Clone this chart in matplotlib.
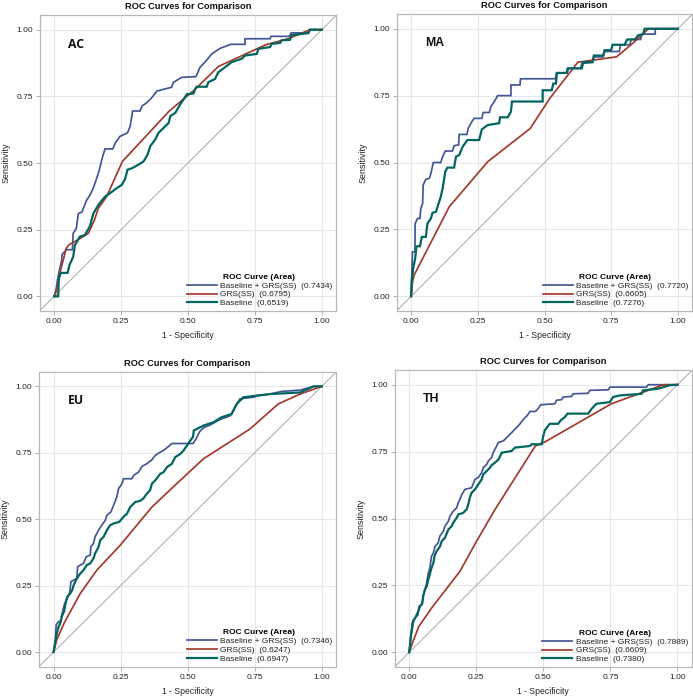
import numpy as np
import matplotlib
matplotlib.use("Agg")
import matplotlib.pyplot as plt

# ---------------- data (fpr, tpr) ----------------
PANELS = ["AC", "MA", "EU", "TH"]
SERIES = ["Baseline + GRS(SS)", "GRS(SS)", "Baseline"]
AUC = {
    "AC": [0.7434, 0.6795, 0.6519],
    "MA": [0.7720, 0.6605, 0.7276],
    "EU": [0.7346, 0.6247, 0.6947],
    "TH": [0.7889, 0.6609, 0.7380],
}

AC_COMBINED = [(0,0),(0.003,0.01),(0.008,0.03),(0.012,0.06),(0.02,0.1),(0.027,0.13),(0.03,0.158),
    (0.046,0.175),(0.068,0.175),(0.071,0.236),(0.083,0.255),(0.09,0.31),(0.103,0.316),(0.109,0.33),
    (0.121,0.36),(0.134,0.38),(0.146,0.406),(0.159,0.443),(0.169,0.475),(0.178,0.513),(0.19,0.553),
    (0.219,0.553),(0.228,0.575),(0.246,0.60),(0.274,0.613),(0.284,0.638),(0.293,0.695),(0.321,0.695),
    (0.328,0.714),(0.346,0.726),(0.365,0.745),(0.384,0.77),(0.411,0.777),(0.439,0.784),(0.445,0.802),
    (0.476,0.821),(0.53,0.824),(0.545,0.859),(0.565,0.88),(0.59,0.91),(0.62,0.93),(0.66,0.945),
    (0.713,0.945),(0.713,0.966),(0.807,0.966),(0.81,0.975),(0.88,0.975),(0.885,0.988),(0.95,0.988),
    (0.955,1.0),(1.0,1.0)]
AC_GRS = [(0,0),(0.009,0.023),(0.022,0.09),(0.045,0.18),(0.056,0.194),(0.085,0.21),(0.1275,0.236),
    (0.15,0.285),(0.165,0.33),(0.196,0.374),(0.255,0.506),(0.43,0.695),(0.5275,0.777),(0.6135,0.862),
    (0.79,0.943),(0.88,0.968),(0.956,1.0),(1.0,1.0)]
AC_BASE = [(0,0),(0.015,0),(0.0175,0.067),(0.025,0.088),(0.05,0.088),(0.058,0.12),(0.071,0.148),
    (0.0775,0.192),(0.096,0.224),(0.115,0.23),(0.134,0.264),(0.146,0.31),(0.165,0.343),(0.19,0.374),
    (0.209,0.387),(0.234,0.406),(0.2525,0.418),(0.265,0.44),(0.274,0.475),(0.29,0.48),(0.315,0.494),
    (0.334,0.506),(0.349,0.531),(0.359,0.563),(0.3775,0.588),(0.39,0.613),(0.409,0.632),(0.4275,0.65),
    (0.434,0.676),(0.4525,0.688),(0.471,0.72),(0.484,0.739),(0.496,0.758),(0.521,0.761),(0.527,0.777),
    (0.532,0.786),(0.57,0.786),(0.576,0.803),(0.601,0.815),(0.613,0.84),(0.638,0.859),(0.663,0.878),
    (0.701,0.891),(0.713,0.903),(0.757,0.909),(0.763,0.928),(0.807,0.935),(0.813,0.947),(0.844,0.95),
    (0.85,0.96),(0.881,0.962),(0.888,0.98),(0.95,0.987),(0.956,1.0),(1.0,1.0)]

MA_COMBINED = [(0,0),(0.0025,0.091),(0.005,0.166),(0.014,0.166),(0.015,0.272),(0.024,0.291),
    (0.033,0.291),(0.036,0.328),(0.043,0.347),(0.045,0.416),(0.055,0.437),(0.068,0.441),(0.074,0.459),
    (0.083,0.50),(0.111,0.50),(0.118,0.522),(0.128,0.543),(0.155,0.543),(0.161,0.563),(0.178,0.566),
    (0.18,0.605),(0.209,0.605),(0.214,0.628),(0.224,0.647),(0.236,0.665),(0.265,0.665),(0.27,0.687),
    (0.293,0.687),(0.299,0.709),(0.312,0.728),(0.324,0.75),(0.374,0.75),(0.374,0.79),(0.408,0.79),
    (0.41,0.813),(0.54,0.813),(0.545,0.83),(0.555,0.835),(0.585,0.835),(0.59,0.852),(0.635,0.852),
    (0.64,0.87),(0.68,0.875),(0.685,0.895),(0.72,0.895),(0.725,0.915),(0.78,0.915),(0.785,0.94),
    (0.82,0.94),(0.825,0.96),(0.86,0.96),(0.865,0.98),(0.915,0.98),(0.915,1.0),(1.0,1.0)]
MA_GRS = [(0,0),(0.005,0.054),(0.011,0.079),(0.143,0.335),(0.287,0.503),(0.446,0.627),(0.52,0.74),
    (0.625,0.875),(0.77,0.895),(0.83,0.945),(0.89,1.0),(1.0,1.0)]
MA_BASE = [(0,0),(0.0025,0.06),(0.0075,0.104),(0.015,0.141),(0.02,0.187),(0.033,0.187),(0.04,0.222),
    (0.055,0.222),(0.061,0.272),(0.074,0.291),(0.08,0.312),(0.093,0.316),(0.099,0.335),(0.111,0.372),
    (0.118,0.403),(0.128,0.466),(0.136,0.481),(0.161,0.481),(0.168,0.522),(0.18,0.528),(0.193,0.559),
    (0.211,0.584),(0.255,0.584),(0.265,0.624),(0.287,0.64),(0.33,0.647),(0.333,0.669),(0.362,0.669),
    (0.374,0.69),(0.378,0.728),(0.493,0.728),(0.493,0.77),(0.527,0.77),(0.533,0.795),(0.543,0.795),
    (0.546,0.835),(0.583,0.835),(0.587,0.852),(0.64,0.852),(0.645,0.875),(0.68,0.875),(0.685,0.9),
    (0.72,0.9),(0.725,0.92),(0.75,0.92),(0.755,0.94),(0.8,0.94),(0.81,0.96),(0.84,0.96),(0.85,0.975),
    (0.87,0.98),(0.875,1.0),(1.0,1.0)]

EU_COMBINED = [(0,0),(0.006,0.034),(0.01,0.1025),(0.019,0.115),(0.027,0.115),(0.031,0.14),
    (0.04,0.1775),(0.05,0.2025),(0.06,0.221),(0.065,0.265),(0.075,0.271),(0.087,0.2775),(0.09,0.321),
    (0.1,0.3275),(0.112,0.334),(0.122,0.359),(0.137,0.365),(0.139,0.396),(0.149,0.409),(0.155,0.434),
    (0.168,0.459),(0.18,0.4775),(0.193,0.496),(0.199,0.515),(0.214,0.5275),(0.224,0.5525),
    (0.236,0.584),(0.2425,0.615),(0.255,0.634),(0.261,0.6525),(0.292,0.6525),(0.299,0.665),
    (0.317,0.6775),(0.33,0.699),(0.348,0.709),(0.367,0.724),(0.379,0.74),(0.392,0.749),(0.41,0.759),
    (0.429,0.774),(0.4415,0.785),(0.52,0.785),(0.53,0.80),(0.545,0.83),(0.56,0.845),(0.585,0.855),
    (0.62,0.875),(0.66,0.89),(0.67,0.91),(0.685,0.935),(0.695,0.953),(0.75,0.96),(0.757,0.965),
    (0.807,0.971),(0.85,0.981),(0.92,0.986),(0.97,1.0),(1.0,1.0)]
EU_GRS = [(0,0),(0.012,0.046),(0.04,0.11),(0.1,0.221),(0.162,0.309),(0.249,0.4025),(0.366,0.545),
    (0.45,0.625),(0.559,0.7275),(0.733,0.84),(0.838,0.934),(0.919,0.971),(1.0,1.0)]
EU_BASE = [(0,0),(0.006,0.034),(0.0125,0.071),(0.019,0.095),(0.025,0.109),(0.031,0.134),(0.04,0.155),
    (0.045,0.184),(0.052,0.209),(0.062,0.221),(0.07,0.234),(0.075,0.252),(0.087,0.2775),(0.1,0.296),
    (0.112,0.309),(0.124,0.3275),(0.137,0.334),(0.149,0.3525),(0.155,0.371),(0.168,0.396),
    (0.174,0.421),(0.187,0.434),(0.199,0.459),(0.211,0.4775),(0.224,0.484),(0.245,0.49),(0.261,0.509),
    (0.274,0.521),(0.286,0.546),(0.305,0.565),(0.323,0.569),(0.335,0.578),(0.348,0.596),(0.36,0.609),
    (0.367,0.634),(0.379,0.646),(0.398,0.671),(0.41,0.677),(0.423,0.696),(0.4415,0.709),(0.454,0.734),
    (0.473,0.746),(0.485,0.759),(0.4975,0.7775),(0.51,0.796),(0.52,0.81),(0.523,0.834),(0.559,0.8525),
    (0.596,0.865),(0.627,0.884),(0.664,0.896),(0.683,0.934),(0.708,0.959),(0.807,0.971),
    (0.919,0.977),(0.97,1.0),(1.0,1.0)]

TH_COMBINED = [(0,0),(0.005,0.046),(0.011,0.109),(0.015,0.121),(0.027,0.134),(0.033,0.14),
    (0.036,0.171),(0.047,0.178),(0.052,0.209),(0.065,0.259),(0.071,0.296),(0.077,0.315),(0.083,0.359),
    (0.09,0.371),(0.096,0.396),(0.108,0.409),(0.114,0.434),(0.127,0.4525),(0.133,0.471),(0.146,0.49),
    (0.152,0.509),(0.164,0.5275),(0.177,0.54),(0.183,0.559),(0.189,0.571),(0.196,0.59),(0.208,0.609),
    (0.2325,0.615),(0.238,0.628),(0.245,0.646),(0.257,0.653),(0.27,0.671),(0.276,0.69),(0.289,0.7025),
    (0.295,0.715),(0.307,0.7275),(0.313,0.746),(0.326,0.771),(0.332,0.784),(0.351,0.79),(0.363,0.8025),
    (0.376,0.815),(0.388,0.8275),(0.394,0.834),(0.41,0.85),(0.425,0.87),(0.44,0.885),(0.45,0.9),
    (0.47,0.9),(0.48,0.91),(0.49,0.925),(0.543,0.929),(0.549,0.942),(0.568,0.944),(0.574,0.954),
    (0.605,0.956),(0.611,0.966),(0.667,0.968),(0.673,0.979),(0.742,0.981),(0.748,0.991),(0.884,0.991),
    (0.891,1.0),(1.0,1.0)]
TH_GRS = [(0,0),(0.012,0.035),(0.035,0.095),(0.083,0.165),(0.189,0.3025),(0.251,0.415),(0.32,0.534),
    (0.47,0.771),(0.5056,0.786),(0.754,0.929),(0.891,0.979),(0.947,1.0),(1.0,1.0)]
TH_BASE = [(0,0),(0.006,0.059),(0.011,0.09),(0.015,0.115),(0.025,0.134),(0.033,0.152),(0.04,0.171),
    (0.049,0.184),(0.052,0.209),(0.058,0.234),(0.065,0.246),(0.071,0.271),(0.083,0.315),(0.09,0.334),
    (0.094,0.359),(0.102,0.3775),(0.115,0.396),(0.121,0.415),(0.133,0.428),(0.146,0.459),(0.158,0.471),
    (0.164,0.484),(0.177,0.503),(0.183,0.515),(0.201,0.521),(0.214,0.534),(0.22,0.5525),(0.226,0.578),
    (0.2325,0.596),(0.245,0.609),(0.2575,0.6275),(0.27,0.646),(0.276,0.665),(0.289,0.6775),
    (0.301,0.69),(0.307,0.699),(0.32,0.709),(0.333,0.721),(0.345,0.746),(0.382,0.7525),(0.394,0.765),
    (0.45,0.771),(0.456,0.7775),(0.494,0.7775),(0.5,0.81),(0.5056,0.83),(0.524,0.854),(0.555,0.854),
    (0.565,0.867),(0.58,0.879),(0.59,0.892),(0.667,0.892),(0.68,0.91),(0.698,0.929),(0.748,0.935),
    (0.76,0.954),(0.785,0.96),(0.866,0.966),(0.872,0.979),(0.928,0.985),(0.971,0.998),(1.0,1.0)]

CURVES = {
    "AC": [AC_COMBINED, AC_GRS, AC_BASE],
    "MA": [MA_COMBINED, MA_GRS, MA_BASE],
    "EU": [EU_COMBINED, EU_GRS, EU_BASE],
    "TH": [TH_COMBINED, TH_GRS, TH_BASE],
}

COLORS = ["#445694", "#A23A2E", "#01665E"]
TICKS = [0.0, 0.25, 0.5, 0.75, 1.0]
TICKLABELS = ["0.00", "0.25", "0.50", "0.75", "1.00"]

POSITIONS = {
    "AC": [0.0577, 0.5544, 0.4271, 0.4241],
    "MA": [0.5729, 0.5544, 0.4257, 0.4255],
    "EU": [0.0567, 0.0448, 0.4281, 0.4226],
    "TH": [0.5700, 0.0444, 0.4281, 0.4255],
}
LABEL_FONT = {"AC": "Open Sans", "MA": "Liberation Sans", "EU": "Open Sans", "TH": "Liberation Sans"}

plt.rcParams["font.family"] = ["Liberation Sans", "DejaVu Sans"]

fig = plt.figure(figsize=(6.93, 6.98), dpi=100)

for p in PANELS:
    ax = fig.add_axes(POSITIONS[p])
    ax.set_xlim(-0.053, 1.053)
    ax.set_ylim(-0.055, 1.055)
    ax.set_xticks(TICKS)
    ax.set_yticks(TICKS)
    ax.set_xticklabels(TICKLABELS)
    ax.set_yticklabels(TICKLABELS)
    ax.grid(True, color="#e6e6e6", lw=0.8)
    ax.set_axisbelow(True)
    for s in ax.spines.values():
        s.set_color("#b8b8b8")
        s.set_linewidth(0.9)
    ax.tick_params(axis="both", length=3, width=0.7, color="#b0b0b0",
                   labelsize=6.0, labelcolor="#222222", pad=2)
    # reference diagonal
    ax.plot([-0.1, 1.1], [-0.1, 1.1], color="#a8a8a8", lw=0.7, zorder=2)
    handles = []
    for i, (pts, name) in enumerate(zip(CURVES[p], SERIES)):
        arr = np.array(pts)
        lw = 1.6 if i == 2 else 1.25
        h, = ax.plot(arr[:, 0], arr[:, 1], color=COLORS[i], lw=lw, zorder=3 + i,
                     label=f"{name}  ({AUC[p][i]:.4f})", solid_joinstyle="miter")
        handles.append(h)
    leg = ax.legend(handles=handles, loc="lower right", frameon=False, fontsize=6.0,
                    title="ROC Curve (Area)", title_fontproperties={"weight": "bold", "size": 6.0},
                    handlelength=3.6, handletextpad=0.4, labelspacing=0.12,
                    borderaxespad=0.25, borderpad=0.2)
    for t in leg.get_texts():
        t.set_color("#222222")
    ax.set_title("ROC Curves for Comparison", fontsize=6.7, fontweight="bold", pad=4, color="#111111")
    ax.set_xlabel("1 - Specificity", fontsize=6.2, color="#222222")
    ax.set_ylabel("Sensitivity", fontsize=6.4, color="#222222")
    ax.xaxis.set_label_coords(0.5, -0.068)
    ax.yaxis.set_label_coords(-0.100, 0.5)
    ax.text(0.052, 0.945, p, fontsize=8.8, fontweight="bold", va="center", ha="left",
            family=[LABEL_FONT[p], "DejaVu Sans"], color="#111111")

fig.savefig("out.png", dpi=100)
